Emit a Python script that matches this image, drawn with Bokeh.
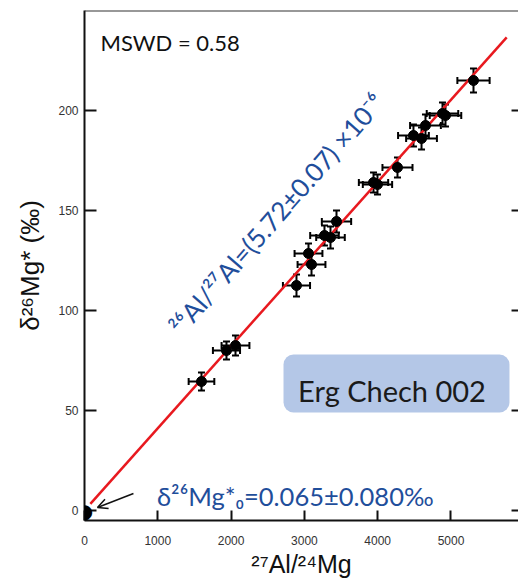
from bokeh.plotting import figure
from bokeh.models import (Whisker, ColumnDataSource, Label, Arrow, OpenHead, Span,
                          FixedTicker, Range1d, BoxAnnotation, TeeHead)
from bokeh.embed import file_html
from bokeh.resources import INLINE

# ---- data ----
al_mg = [1596, 1937, 2060, 2892, 3056, 3097, 3274, 3356, 3438, 3943, 3997, 4270,
         4488, 4598, 4652, 4884, 4925, 5307]
d26mg = [64.5, 80, 82.5, 112.5, 128.5, 123, 137.5, 136.5, 144.5, 164, 163, 171.5,
         187.5, 186, 192.5, 198.5, 197.5, 215]
al_mg_err = [175, 185, 190, 185, 190, 190, 195, 195, 200, 200, 200, 205,
             210, 210, 210, 215, 215, 220]
d26mg_err = [4.5, 4.5, 5, 5.5, 5, 5.5, 5, 5.5, 5.5, 5, 5, 5,
             5.5, 5.5, 5.5, 5.5, 5.5, 6]
origin_x = [0]
origin_y = [0]

al_ratio = 5.72e-6       # 26Al/27Al
intercept = 0.065        # delta26Mg*_0
mg_ref = 0.13932         # (26Mg/24Mg) reference
fit_x = [80, 5760]
fit_y = [intercept + al_ratio * 1000.0 / mg_ref * xv for xv in fit_x]

x_ticks = [0, 1000, 2000, 3000, 4000, 5000]
y_ticks = [0, 50, 100, 150, 200]

X_MAX = 5921
Y_MIN, Y_MAX = -5, 250
BLUE = "#1F4E9B"
RED = "#E8191F"

p = figure(width=518, height=582, output_backend="svg", toolbar_location=None,
           x_range=Range1d(0, X_MAX), y_range=Range1d(Y_MIN, Y_MAX),
           min_border_left=84, min_border_right=0, min_border_top=10, min_border_bottom=62)
p.grid.visible = False
p.outline_line_color = None
p.background_fill_color = "white"

for ax in (p.xaxis[0], p.yaxis[0]):
    ax.axis_line_width = 2
    ax.axis_line_color = "#111111"
    ax.major_tick_line_width = 2
    ax.major_tick_line_color = "#111111"
    ax.major_tick_out = 0
    ax.minor_tick_line_color = None
    ax.major_label_text_font = "Liberation Sans"
    ax.major_label_text_font_size = "12px"
    ax.major_label_text_color = "#333333"
    ax.axis_label_text_font = "Liberation Sans"
    ax.axis_label_text_font_style = "normal"
    ax.axis_label_text_color = "#111111"

p.xaxis.ticker = FixedTicker(ticks=x_ticks)
p.yaxis.ticker = FixedTicker(ticks=y_ticks)
p.xaxis.major_tick_in = 10
p.yaxis.major_tick_in = 12
p.xaxis.major_label_standoff = 15
p.yaxis.major_label_standoff = 6
p.xaxis.axis_label = "²⁷Al/²⁴Mg"
p.yaxis.axis_label = "δ²⁶Mg* (‰)"
p.xaxis.axis_label_text_font_size = "25px"
p.yaxis.axis_label_text_font_size = "26px"
p.xaxis.axis_label_standoff = 2
p.yaxis.axis_label_standoff = 10

# top frame line and inward ticks on the right edge
p.add_layout(Span(location=Y_MAX, dimension="width", line_width=2, line_color="#333333"))
tick_len = 95
p.segment(x0=[X_MAX - tick_len] * len(y_ticks), y0=y_ticks,
          x1=[X_MAX] * len(y_ticks), y1=y_ticks, line_color="#111111", line_width=2)

# fit line
p.line(fit_x, fit_y, line_color=RED, line_width=2.5)

# error bars
src = ColumnDataSource(dict(
    x=al_mg, y=d26mg,
    xlo=[a - e for a, e in zip(al_mg, al_mg_err)],
    xhi=[a + e for a, e in zip(al_mg, al_mg_err)],
    ylo=[b - e for b, e in zip(d26mg, d26mg_err)],
    yhi=[b + e for b, e in zip(d26mg, d26mg_err)],
))
for dim, base, lo, hi in (("height", "x", "ylo", "yhi"), ("width", "y", "xlo", "xhi")):
    w = Whisker(source=src, base=base, lower=lo, upper=hi, dimension=dim,
                line_color="black", line_width=2,
                upper_head=TeeHead(size=7, line_width=2, line_color="black"),
                lower_head=TeeHead(size=7, line_width=2, line_color="black"))
    p.add_layout(w)
p.scatter("x", "y", source=src, size=10, color="black")

# origin point (annotation so it is not clipped by the frame)
p.add_layout(Label(x=origin_x[0], y=origin_y[0], text="●", text_align="center",
                   text_baseline="middle", text_font="DejaVu Sans", text_font_size="20px",
                   text_color="black"))

# arrow to intercept
p.add_layout(Arrow(end=OpenHead(size=10, line_width=1.5, line_color="#111111"),
                   x_start=668, y_start=8.5, x_end=177, y_end=1.5,
                   line_width=1.5, line_color="#111111"))

# texts
p.add_layout(Label(x=218, y=234, text="MSWD = 0.58", text_font="Lato",
                   text_font_size="22px", text_color="#111111", text_baseline="alphabetic"))
p.add_layout(Label(x=1230, y=90, text="²⁶Al/²⁷Al=(5.72±0.07) ×10⁻⁶", text_font="Lato",
                   text_font_size="26px", text_color=BLUE, angle=0.852,
                   text_baseline="alphabetic"))
p.add_layout(Label(x=990, y=7.5, text="δ²⁶Mg*₀=0.065±0.080‰", text_font="Lato",
                   text_font_size="25.5px", text_color=BLUE, text_baseline="alphabetic"))

p.add_layout(BoxAnnotation(left=2715, right=5798, bottom=49, top=78, fill_color="#B4C7E7",
                           fill_alpha=1.0, line_color=None, border_radius=10))
p.add_layout(Label(x=4195, y=60, text="Erg Chech 002", text_font="Lato", text_font_size="29px",
                   text_color="#1a1a1a", text_align="center", text_baseline="alphabetic"))

open("out.html", "w").write(file_html(p, INLINE))
